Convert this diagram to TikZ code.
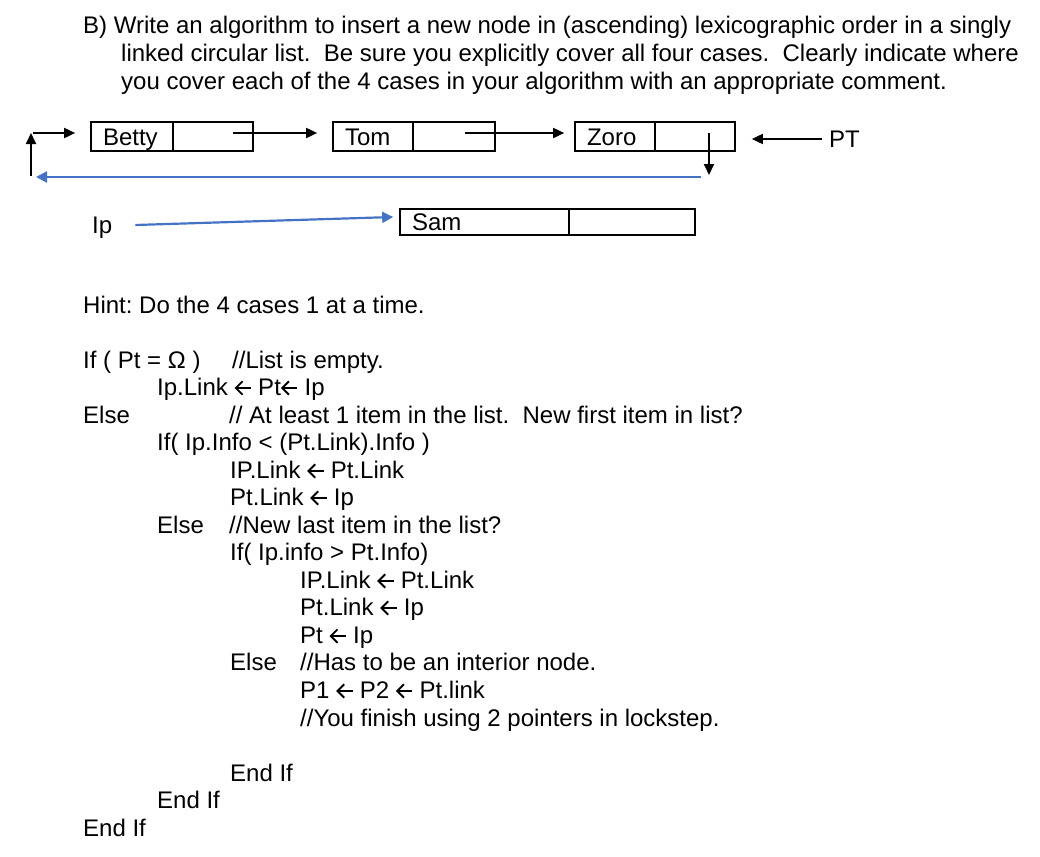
\documentclass[tikz,border=0pt]{standalone}
\usepackage{fontspec}
\setmainfont{Liberation Sans}
\usetikzlibrary{arrows.meta,calc}
\definecolor{wblue}{HTML}{4472C4}
\newcommand{\la}{\tikz[baseline=0pt,x=1pt,y=1pt]{\useasboundingbox (0,0) rectangle (17,14);\draw[line width=1.9pt] (16.5,7)--(1.3,7);\draw[line width=1.9pt,line join=miter] (8,0.3)--(1.3,7)--(8,13.7);}}
\frenchspacing
\tikzset{
  x=1pt,y=-1pt,
  txt/.style={anchor=base west,inner sep=0pt,font=\fontsize{24}{28}\selectfont},
  cell/.style={draw,line width=1.7pt,inner ysep=0pt,inner xsep=12pt,minimum height=28pt,align=left,text height=17pt,text depth=0pt,font=\fontsize{24}{28}\selectfont},
  arr/.style={line width=1.8pt,-{Triangle[length=11pt,width=10pt]}},
  barr/.style={line width=2pt,draw=wblue,-{Triangle[length=11pt,width=11pt]},wblue},
}
\begin{document}
\begin{tikzpicture}
\useasboundingbox (0,0) rectangle (1040,856);
% heading
\node[txt] (h1) at (83,34) {B)\ Write an algorithm to insert a new node in (ascending) lexicographic order in a singly};
\node[txt] (h2) at (121,62) {linked circular list.\ \ Be sure you explicitly cover all four cases.\ \ Clearly indicate where};
\node[txt] (h3) at (121,90) {you cover each of the 4 cases in your algorithm with an appropriate comment.};
% list nodes
\node[cell,text width=58pt,minimum height=29pt] (betty) at (132,136.5) {Betty};
\node[cell,text width=56pt,minimum height=29pt] (bettyL) at (213,136.5) {};
\node[cell,text width=56pt,minimum height=29pt] (tom) at (373,136.5) {Tom};
\node[cell,text width=58pt,minimum height=29pt] (tomL) at (454,136.5) {};
\node[cell,text width=56pt,minimum height=29pt] (zoro) at (615,136.5) {Zoro};
\node[cell,text width=56pt,minimum height=29pt] (zoroL) at (695,136.5) {};
\node[txt] (pt) at (829,147) {PT};
\node[cell,text width=145pt,minimum height=26pt] (sam) at (484.5,222) {Sam};
\node[cell,text width=102pt,minimum height=26pt] (samL) at (632,222) {};
\node[txt] (ip) at (92,233) {Ip};
% connectors
\coordinate (loopB) at (31,176);
\coordinate (loopT) at (31,133);
\coordinate (blueS) at (701,177);
\coordinate (blueE) at (36,177);
\draw[arr] (loopB) -- (loopT);
\draw[arr] ([xshift=2pt]loopT) -- ([xshift=-15pt]betty.west |- loopT);
\draw[arr] ([xshift=20pt,yshift=3.5pt]bettyL.center) -- ([xshift=-15pt,yshift=3.5pt]tom.west);
\draw[arr] ([xshift=11pt,yshift=3.5pt]tomL.center) -- ([xshift=-10pt,yshift=3.5pt]zoro.west);
\draw[arr] ([xshift=14pt,yshift=3.5pt]zoroL.center) -- ([xshift=14pt,yshift=-38.5pt]zoroL.center);
\draw[arr] ([xshift=-7pt,yshift=8pt]pt.base west) -- ([xshift=16pt,yshift=-2.5pt]zoroL.east);
\draw[barr] (blueS) -- (blueE);
\draw[barr,line width=2.2pt] ([xshift=23pt,yshift=8pt]ip.base east) -- ([xshift=-6pt,yshift=5pt]sam.west);
% hint
\node[txt] (hint) at (83,313) {Hint: Do the 4 cases 1 at a time.};
% algorithm
\node[txt] (l1) at (83,368) {If ( Pt = Ω )};
\node[txt] (c1) at (232,368) {//List is empty.};
\node[txt] (l2) at (157,395) {Ip.Link \la{} Pt\la{} Ip};
\node[txt] (l3) at (83,423) {Else};
\node[txt] (c3) at (229,423) {// At least 1 item in the list.\ \ New first item in list?};
\node[txt] (l4) at (157,450) {If( Ip.Info < (Pt.Link).Info )};
\node[txt] (l5) at (230,478) {IP.Link \la{} Pt.Link};
\node[txt] (l6) at (230,505) {Pt.Link \la{} Ip};
\node[txt] (l7) at (157,533) {Else};
\node[txt] (c7) at (229,533) {//New last item in the list?};
\node[txt] (l8) at (230,560) {If( Ip.info > Pt.Info)};
\node[txt] (l9) at (300,588) {IP.Link \la{} Pt.Link};
\node[txt] (l10) at (300,615) {Pt.Link \la{} Ip};
\node[txt] (l11) at (300,643) {Pt \la{} Ip};
\node[txt] (l12) at (230,670) {Else};
\node[txt] (c12) at (300,670) {//Has to be an interior node.};
\node[txt] (l13) at (300,698) {P1 \la{} P2 \la{} Pt.link};
\node[txt] (l14) at (300,726) {//You finish using 2 pointers in lockstep.};
\node[txt] (l15) at (230,781) {End If};
\node[txt] (l16) at (157,808) {End If};
\node[txt] (l17) at (83,836) {End If};
\end{tikzpicture}
\end{document}
